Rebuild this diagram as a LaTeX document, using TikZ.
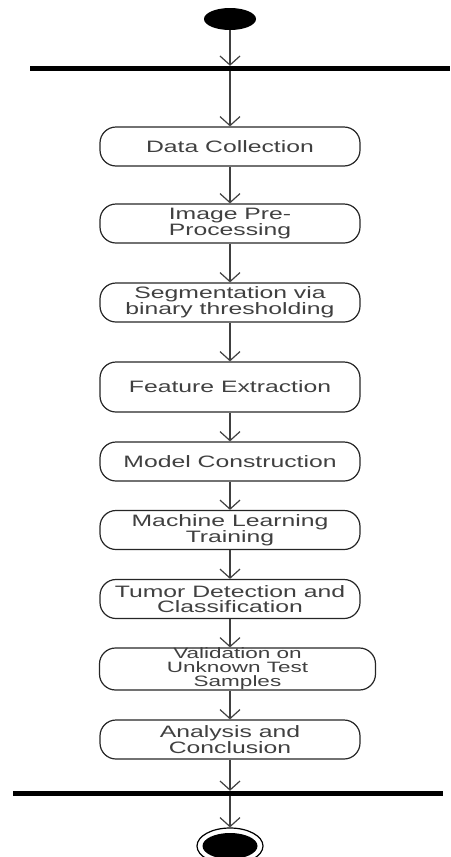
\documentclass[tikz,border=0pt]{standalone}
\usepackage{fontspec}
\setmainfont{Liberation Sans}[FakeStretch=1.5]
\usetikzlibrary{shapes.geometric,arrows.meta}

\tikzset{
	activity/.style = {draw = black!85, line width = 1.2pt, rounded corners = 16pt, minimum width = 260pt, minimum height = 39pt, inner sep = 0pt, align = center, text = black!75, font = \fontsize{16.5}{15}\selectfont},
	forkbar/.style = {fill = black, inner sep = 0pt, minimum height = 5pt},
	flow/.style = {draw = black!75, line width = 1.2pt, -{Straight Barb[length = 9pt, width = 20pt]}}
}

\begin{document}
\begin{tikzpicture}[x = 1pt, y = -1pt]
	\useasboundingbox (0, 0) rectangle (450, 857);
	
	\node[ellipse, fill = black, minimum width = 52pt, minimum height = 22pt, inner sep = 0pt] (start) at (230, 19) {};
	\node[forkbar, minimum width = 420pt] (fork) at (240, 68.5) {};
	
	\node[activity] (collect) at (230, 146.5) {Data Collection};
	\node[activity] (prep) at (230, 223.5) {Image Pre-\\Processing};
	\node[activity] (segment) at (230, 302.5) {Segmentation via\\binary thresholding};
	\node[activity, minimum height = 50pt] (feature) at (230, 387) {Feature Extraction};
	\node[activity] (model) at (230, 461.5) {Model Construction};
	\node[activity] (train) at (230, 530) {Machine Learning\\Training};
	\node[activity] (detect) at (230, 599) {Tumor Detection and\\Classification};
	\node[activity, minimum width = 276pt, minimum height = 41pt, font = \fontsize{15}{14}\selectfont] (valid) at (237.5, 669) {Validation on\\Unknown Test\\Samples};
	\node[activity] (analysis) at (230, 739.5) {Analysis and\\Conclusion};
	
	\node[forkbar, minimum width = 430pt] (join) at (228, 793.5) {};
	\node[ellipse, draw = black, line width = 1.2pt, minimum width = 66pt, minimum height = 36pt, inner sep = 0pt] (stop) at (230, 846) {};
	\node[ellipse, fill = black, minimum width = 55pt, minimum height = 26pt, inner sep = 0pt] (stopdot) at (stop) {};
	
	\draw[flow] (start) -- (start |- fork.north);
	\draw[flow] (start |- fork.south) -- (collect);
	\foreach \a/\b in {collect/prep, prep/segment, segment/feature, feature/model, model/train, train/detect} {
		\draw[flow] (\a) -- (\b);
	}
	\draw[flow] (detect) -- (detect |- valid.north);
	\draw[flow] (analysis |- valid.south) -- (analysis);
	\draw[flow] (analysis) -- (analysis |- join.north);
	\draw[flow] (analysis |- join.south) -- (stop);
\end{tikzpicture}
\end{document}
